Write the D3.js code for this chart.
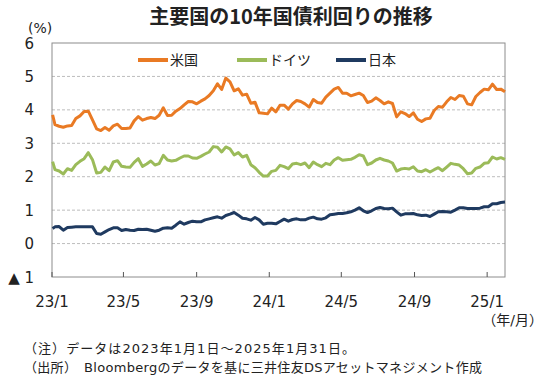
<!DOCTYPE html>
<html>
<head>
<meta charset="utf-8">
<script src="https://cdn.jsdelivr.net/npm/d3@7"></script>
<style>
  body { margin: 0; background: #fff; }
  text { font-family: "DejaVu Sans", "Noto Sans CJK JP", sans-serif; fill: #222; }
</style>
</head>
<body>
<div id="chart"></div>
<script>
// weekly observation dates (last trading day of each week)
const dates = [
  "2023-01-02","2023-01-06","2023-01-13","2023-01-20","2023-01-27","2023-02-03","2023-02-10","2023-02-17","2023-02-24",
  "2023-03-03","2023-03-10","2023-03-17","2023-03-24","2023-03-31","2023-04-07","2023-04-14","2023-04-21","2023-04-28",
  "2023-05-05","2023-05-12","2023-05-19","2023-05-26","2023-06-02","2023-06-09","2023-06-16","2023-06-23","2023-06-30",
  "2023-07-07","2023-07-14","2023-07-21","2023-07-28","2023-08-04","2023-08-11","2023-08-18","2023-08-25","2023-09-01",
  "2023-09-08","2023-09-15","2023-09-22","2023-09-29","2023-10-06","2023-10-13","2023-10-20","2023-10-27","2023-11-03",
  "2023-11-10","2023-11-17","2023-11-24","2023-12-01","2023-12-08","2023-12-15","2023-12-22","2023-12-29",
  "2024-01-05","2024-01-12","2024-01-19","2024-01-26","2024-02-02","2024-02-09","2024-02-16","2024-02-23","2024-03-01",
  "2024-03-08","2024-03-15","2024-03-22","2024-03-29","2024-04-05","2024-04-12","2024-04-19","2024-04-26","2024-05-03",
  "2024-05-10","2024-05-17","2024-05-24","2024-05-31","2024-06-07","2024-06-14","2024-06-21","2024-06-28","2024-07-05",
  "2024-07-12","2024-07-19","2024-07-26","2024-08-02","2024-08-09","2024-08-16","2024-08-23","2024-08-30","2024-09-06",
  "2024-09-13","2024-09-20","2024-09-27","2024-10-04","2024-10-11","2024-10-18","2024-10-25","2024-11-01","2024-11-08",
  "2024-11-15","2024-11-22","2024-11-29","2024-12-06","2024-12-13","2024-12-20","2024-12-27",
  "2025-01-03","2025-01-10","2025-01-17","2025-01-24","2025-01-31"
];

// 10y yields (%)
const usYield = [
  3.85,3.56,3.51,3.48,3.52,3.53,3.74,3.82,3.95,
  3.96,3.70,3.43,3.38,3.47,3.39,3.52,3.57,3.44,
  3.44,3.46,3.67,3.80,3.69,3.74,3.77,3.74,3.84,
  4.06,3.83,3.84,3.96,4.04,4.15,4.25,4.24,4.18,
  4.26,4.33,4.43,4.57,4.78,4.61,4.95,4.84,4.57,
  4.63,4.44,4.47,4.20,4.23,3.91,3.90,3.88,
  4.05,3.94,4.14,4.14,4.02,4.18,4.28,4.25,4.18,
  4.08,4.31,4.22,4.20,4.38,4.50,4.62,4.67,4.50,
  4.50,4.42,4.46,4.50,4.43,4.22,4.26,4.36,4.28,
  4.18,4.24,4.19,3.79,3.94,3.89,3.80,3.91,3.72,
  3.65,3.73,3.75,3.98,4.10,4.08,4.24,4.37,4.31,
  4.43,4.41,4.18,4.15,4.40,4.52,4.62,
  4.60,4.77,4.61,4.62,4.54
];

const deYield = [
  2.45,2.21,2.17,2.08,2.24,2.19,2.36,2.46,2.54,
  2.72,2.51,2.11,2.13,2.29,2.18,2.44,2.48,2.31,
  2.29,2.28,2.43,2.54,2.31,2.38,2.47,2.35,2.39,
  2.64,2.50,2.47,2.49,2.56,2.62,2.62,2.56,2.55,
  2.61,2.68,2.74,2.90,2.88,2.74,2.89,2.83,2.65,
  2.72,2.59,2.64,2.36,2.27,2.13,2.02,2.02,
  2.16,2.19,2.34,2.30,2.24,2.38,2.40,2.36,2.41,
  2.27,2.44,2.36,2.30,2.40,2.36,2.50,2.57,2.49,
  2.51,2.52,2.58,2.66,2.62,2.36,2.41,2.50,2.55,
  2.50,2.47,2.41,2.17,2.23,2.25,2.23,2.30,2.17,
  2.15,2.21,2.14,2.21,2.27,2.18,2.29,2.40,2.37,
  2.35,2.24,2.09,2.11,2.25,2.29,2.40,
  2.42,2.59,2.53,2.57,2.52
];

const jpYield = [
  0.45,0.50,0.51,0.40,0.48,0.49,0.50,0.50,0.50,
  0.50,0.50,0.30,0.28,0.35,0.42,0.47,0.47,0.39,
  0.42,0.40,0.39,0.43,0.42,0.43,0.40,0.37,0.40,
  0.46,0.47,0.46,0.55,0.65,0.58,0.63,0.67,0.65,
  0.65,0.71,0.74,0.77,0.80,0.76,0.84,0.88,0.93,
  0.85,0.76,0.74,0.70,0.78,0.71,0.58,0.61,
  0.61,0.59,0.66,0.73,0.67,0.72,0.74,0.71,0.71,
  0.76,0.79,0.74,0.73,0.77,0.86,0.88,0.90,0.90,
  0.92,0.95,1.00,1.07,0.98,0.93,0.98,1.05,1.08,
  1.05,1.04,1.06,0.95,0.85,0.89,0.89,0.90,0.86,
  0.84,0.85,0.81,0.88,0.95,0.96,0.95,0.94,1.00,
  1.07,1.07,1.05,1.05,1.05,1.06,1.10,
  1.10,1.19,1.19,1.23,1.24
];

const seriesNames = ["米国", "ドイツ", "日本"];
const seriesColors = ["#E97A24", "#9BBB59", "#1F3A60"];
const yTicks = [-1, 0, 1, 2, 3, 4, 5, 6];
const xTickDates = ["2023-01-01","2023-05-01","2023-09-01","2024-01-01","2024-05-01","2024-09-01","2025-01-01"];
const xTickLabels = ["23/1","23/5","23/9","24/1","24/5","24/9","25/1"];
const notes = [
  "（注）データは2023年1月1日～2025年1月31日。",
  "（出所）　Bloombergのデータを基に三井住友DSアセットマネジメント作成"
];

const width = 550, height = 376;
const margin = { top: 43, right: 45, bottom: 99, left: 52 };

const svg = d3.select("#chart").append("svg")
    .attr("width", width)
    .attr("height", height);

const parse = d3.timeParse("%Y-%m-%d");

const x = d3.scaleTime()
    .domain([parse("2023-01-01"), parse("2025-01-31")])
    .range([margin.left, width - margin.right]);

const y = d3.scaleLinear()
    .domain([-1, 6])
    .range([height - margin.bottom, margin.top]);

// title
svg.append("text")
    .attr("x", 291)
    .attr("y", 24)
    .attr("text-anchor", "middle")
    .style("font-family", "'Noto Sans CJK JP', sans-serif")
    .style("font-size", "20px")
    .style("font-weight", "bold")
    .text("主要国の10年国債利回りの推移");

svg.append("text")
    .attr("x", 28)
    .attr("y", 33)
    .style("font-size", "14px")
    .text("(%)");

// grid lines
svg.append("g")
    .selectAll("line")
    .data(yTicks.filter(d => d > -1 && d < 6))
    .enter().append("line")
    .attr("x1", margin.left)
    .attr("x2", width - margin.right)
    .attr("y1", d => y(d))
    .attr("y2", d => y(d))
    .attr("stroke", "#bdbdbd")
    .attr("stroke-width", 1)
    .attr("stroke-dasharray", "3,2");

// plot frame
svg.append("rect")
    .attr("x", margin.left)
    .attr("y", margin.top)
    .attr("width", width - margin.left - margin.right)
    .attr("height", height - margin.top - margin.bottom)
    .attr("fill", "none")
    .attr("stroke", "#8c8c8c")
    .attr("stroke-width", 1);

// y labels
svg.append("g")
    .selectAll("text")
    .data(yTicks)
    .enter().append("text")
    .attr("x", 34)
    .attr("y", d => y(d) + 5.5)
    .attr("text-anchor", "end")
    .style("font-size", "15px")
    .text(d => d < 0 ? "▲ " + Math.abs(d) : d);

// x axis ticks (pointing inward) and labels
const xAxis = svg.append("g");
xAxis.selectAll("line")
    .data(xTickDates)
    .enter().append("line")
    .attr("x1", d => x(parse(d)))
    .attr("x2", d => x(parse(d)))
    .attr("y1", y(-1))
    .attr("y2", y(-1) - 5)
    .attr("stroke", "#555")
    .attr("stroke-width", 1);

xAxis.selectAll("text")
    .data(xTickDates)
    .enter().append("text")
    .attr("x", d => x(parse(d)))
    .attr("y", 307)
    .attr("text-anchor", "middle")
    .style("font-size", "15px")
    .text((d, i) => xTickLabels[i]);

svg.append("text")
    .attr("x", 543)
    .attr("y", 325)
    .attr("text-anchor", "end")
    .style("font-size", "14px")
    .text("（年/月）");

// lines
const allSeries = [usYield, deYield, jpYield];
const line = d3.line()
    .x((d, i) => x(parse(dates[i])))
    .y(d => y(d));

svg.append("g")
    .selectAll("path")
    .data(allSeries)
    .enter().append("path")
    .attr("d", d => line(d))
    .attr("fill", "none")
    .attr("stroke", (d, i) => seriesColors[i])
    .attr("stroke-width", 3)
    .attr("stroke-linejoin", "round");

// legend
const legend = svg.append("g")
    .attr("transform", "translate(138,60)");

const item = legend.selectAll("g")
    .data(seriesNames)
    .enter().append("g")
    .attr("transform", (d, i) => `translate(${i * 99},0)`);

item.append("line")
    .attr("x1", 0)
    .attr("x2", 30)
    .attr("stroke", (d, i) => seriesColors[i])
    .attr("stroke-width", 4);

item.append("text")
    .attr("x", 32)
    .attr("y", 5)
    .style("font-size", "14px")
    .text(d => d);

// notes (stretched to the widths in the original)
svg.append("g")
    .selectAll("text")
    .data(notes)
    .enter().append("text")
    .attr("x", 24)
    .attr("y", (d, i) => 353 + i * 19)
    .attr("textLength", (d, i) => i === 0 ? 331 : 458)
    .attr("lengthAdjust", "spacing")
    .style("font-size", "13px")
    .text(d => d);
</script>
</body>
</html>
